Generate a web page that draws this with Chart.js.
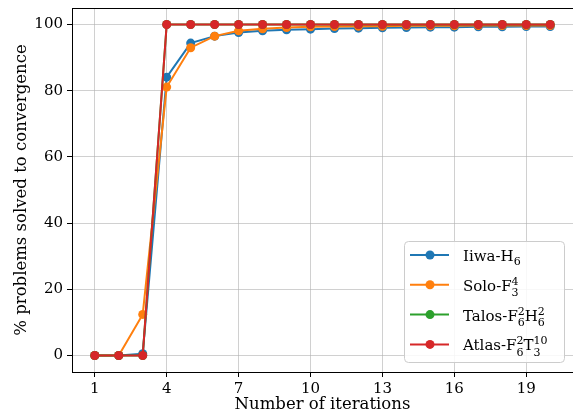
<!DOCTYPE html>
<html>
<head>
<meta charset="utf-8">
<script src="https://cdn.jsdelivr.net/npm/chart.js@4"></script>
<style>
  html, body { margin: 0; padding: 0; background: #fff; }
  #wrap { width: 573px; height: 420px; }
</style>
</head>
<body>
<div id="wrap"><canvas id="chart" width="573" height="420"></canvas></div>
<script>
// data
const iterations = [1, 2, 3, 4, 5, 6, 7, 8, 9, 10, 11, 12, 13, 14, 15, 16, 17, 18, 19, 20];
const iiwa  = [0, 0, 0.5, 84.1, 94.4, 96.5, 97.6, 98.1, 98.4, 98.6, 98.8, 98.9, 99.0, 99.1, 99.2, 99.2, 99.3, 99.3, 99.4, 99.4];
const solo  = [0, 0, 12.4, 81.1, 93.0, 96.5, 98.1, 98.7, 99.1, 99.3, 99.4, 99.5, 99.5, 99.6, 99.6, 99.6, 99.7, 99.7, 99.7, 99.7];
const talos = [0, 0, 0, 100, 100, 100, 100, 100, 100, 100, 100, 100, 100, 100, 100, 100, 100, 100, 100, 100];
const atlas = [0, 0, 0, 100, 100, 100, 100, 100, 100, 100, 100, 100, 100, 100, 100, 100, 100, 100, 100, 100];

const seriesLabels = ['Iiwa-H_6', 'Solo-F_3^4', 'Talos-F_6^2H_6^2', 'Atlas-F_6^2T_3^{10}'];
const seriesColors = ['#1f77b4', '#ff7f0e', '#2ca02c', '#d62728'];
const xTicks = [1, 4, 7, 10, 13, 16, 19];
const yTicks = [0, 20, 40, 60, 80, 100];

const FONT = "'DejaVu Serif', serif";
Chart.defaults.font.family = FONT;
Chart.defaults.color = '#000';

const allSeries = [iiwa, solo, talos, atlas];
const datasets = allSeries.map((vals, i) => ({
    label: seriesLabels[i],
    data: vals.map((v, j) => ({ x: iterations[j], y: v })),
    borderColor: seriesColors[i],
    backgroundColor: seriesColors[i],
    pointBackgroundColor: seriesColors[i],
    pointBorderColor: seriesColors[i],
    borderWidth: 2,
    pointRadius: 4.5,
    pointBorderWidth: 0,
    order: allSeries.length - i,   // later series drawn on top
    tension: 0,
}));

// draws text like "F_6^2" with stacked sub/superscripts
function drawRich(ctx, str, x, y, size) {
    const small = Math.round(size * 0.72);
    const readArg = (s, i) => {
        if (s[i] === '{') { const j = s.indexOf('}', i); return [s.slice(i + 1, j), j + 1]; }
        return [s[i], i + 1];
    };
    let i = 0;
    while (i < str.length) {
        if (str[i] === '_' || str[i] === '^') {
            let sub = null, sup = null;
            while (str[i] === '_' || str[i] === '^') {
                const kind = str[i];
                const [arg, ni] = readArg(str, i + 1);
                if (kind === '_') sub = arg; else sup = arg;
                i = ni;
            }
            ctx.font = small + 'px ' + FONT;
            let w = 0;
            if (sup) { ctx.fillText(sup, x, y - 6); w = Math.max(w, ctx.measureText(sup).width); }
            if (sub) { ctx.fillText(sub, x, y + (sup ? 5.5 : 3.8)); w = Math.max(w, ctx.measureText(sub).width); }
            x += w;
        } else {
            let j = i;
            while (j < str.length && str[j] !== '_' && str[j] !== '^') j++;
            const run = str.slice(i, j);
            ctx.font = size + 'px ' + FONT;
            ctx.fillText(run, x, y);
            x += ctx.measureText(run).width;
            i = j;
        }
    }
}

const framePlugin = {
    id: 'frame',
    afterDatasetsDraw(chart) {
        const { ctx, chartArea: a } = chart;
        ctx.save();
        ctx.strokeStyle = '#000';
        ctx.lineWidth = 1;
        ctx.strokeRect(Math.round(a.left) + 0.5, Math.round(a.top) + 0.5,
                       Math.round(a.right - a.left), Math.round(a.bottom - a.top));
        ctx.restore();
    },
    afterDraw(chart) {
        // legend, lower right
        const { ctx, chartArea: a } = chart;
        const w = 160, h = 121;
        const x0 = 404, y0 = a.bottom - 10 - h;
        ctx.save();
        ctx.beginPath();
        ctx.roundRect(x0 + 0.5, y0 + 0.5, w, h, 4);
        ctx.fillStyle = 'rgba(255,255,255,0.85)';
        ctx.fill();
        ctx.strokeStyle = '#cccccc';
        ctx.lineWidth = 1;
        ctx.stroke();
        seriesLabels.forEach((lab, i) => {
            const cy = y0 + 14 + i * 29.8;
            ctx.strokeStyle = seriesColors[i];
            ctx.lineWidth = 2;
            ctx.beginPath();
            ctx.moveTo(x0 + 6, cy);
            ctx.lineTo(x0 + 45, cy);
            ctx.stroke();
            ctx.fillStyle = seriesColors[i];
            ctx.beginPath();
            ctx.arc(x0 + 26, cy, 4.5, 0, Math.PI * 2);
            ctx.fill();
            ctx.fillStyle = '#000';
            ctx.textBaseline = 'alphabetic';
            drawRich(ctx, lab, x0 + 59, cy + 6, 15);
        });
        ctx.restore();
    }
};

new Chart(document.getElementById('chart'), {
    type: 'line',
    data: { datasets },
    options: {
        responsive: false,
        animation: false,
        layout: { autoPadding: false, padding: { top: 8, right: -2, left: 0, bottom: 0 } },
        plugins: { legend: { display: false }, tooltip: { enabled: false } },
        scales: {
            x: {
                type: 'linear',
                min: 0.05,
                max: 20.95,
                afterBuildTicks: s => { s.ticks = xTicks.map(v => ({ value: v })); },
                afterFit: s => { s.height = 48; s.paddingLeft = 0; s.paddingRight = 0; },
                border: { display: false },
                grid: { color: 'rgba(176,176,176,0.6)', lineWidth: 1, tickColor: '#000', tickLength: 5, tickWidth: 1 },
                ticks: { font: { size: 15 }, padding: 3, maxRotation: 0 },
                title: { display: true, text: 'Number of iterations', font: { size: 16.5 }, padding: { top: 0, bottom: 5 } },
            },
            y: {
                min: -5,
                max: 105,
                afterBuildTicks: s => { s.ticks = yTicks.map(v => ({ value: v })); },
                afterFit: s => { s.width = 72; s.paddingTop = 0; s.paddingBottom = 0; },
                border: { display: false },
                grid: { color: 'rgba(176,176,176,0.6)', lineWidth: 1, tickColor: '#000', tickLength: 5, tickWidth: 1 },
                ticks: { font: { size: 15 }, padding: 4 },
                title: { display: true, text: '% problems solved to convergence', font: { size: 16.5 }, padding: { top: 12, bottom: 0 } },
            },
        },
    },
    plugins: [framePlugin],
});
</script>
</body>
</html>
